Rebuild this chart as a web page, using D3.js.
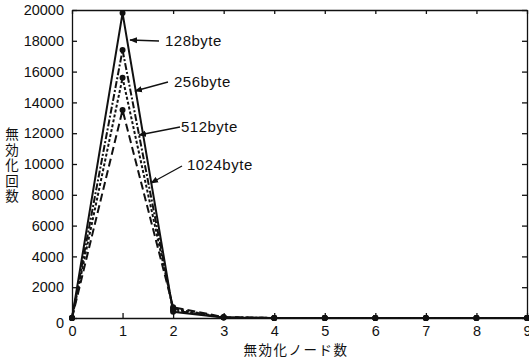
<!DOCTYPE html>
<html>
<head>
<meta charset="utf-8">
<script src="https://cdn.jsdelivr.net/npm/d3@7"></script>
<style>
  body { margin: 0; background: #fff; }
  text { font-family: "Liberation Sans", Arial, sans-serif; fill: #111; }
  .axis path, .axis line { stroke: #111; stroke-width: 1.3; }
  .axis text { font-size: 14.5px; }
  .cjk { font-family: "Noto Sans CJK JP", sans-serif; font-size: 13.5px; }
</style>
</head>
<body>
<svg id="chart" width="529" height="361"></svg>
<script>
// invalidated node count on x, invalidation count on y
var nodes = [0, 1, 2, 3, 4, 5, 6, 7, 8, 9];
var seriesNames = ["128byte", "256byte", "512byte", "1024byte"];
var v128  = [0, 19800, 400, 30, 0, 0, 0, 0, 0, 0];
var v256  = [0, 17400, 500, 40, 0, 0, 0, 0, 0, 0];
var v512  = [0, 15600, 600, 50, 0, 0, 0, 0, 0, 0];
var v1024 = [0, 13500, 700, 60, 0, 0, 0, 0, 0, 0];
var yTicks = [0, 2000, 4000, 6000, 8000, 10000, 12000, 14000, 16000, 18000, 20000];

var svg = d3.select("#chart");
var plotLeft = 72, plotRight = 527, plotTop = 10, plotBottom = 318;

var x = d3.scaleLinear().domain([0, 9]).range([plotLeft, plotRight]);
var y = d3.scaleLinear().domain([0, 20000]).range([plotBottom, plotTop]);

// frame, ticks pointing inward
svg.append("g")
    .attr("class", "axis")
    .attr("transform", "translate(0," + plotBottom + ")")
    .call(d3.axisBottom(x).tickValues(nodes).tickSizeInner(-5).tickSizeOuter(0).tickPadding(8).tickFormat(d3.format("d")));

var yAxis = svg.append("g")
    .attr("class", "axis")
    .attr("transform", "translate(" + plotLeft + ",0)")
    .call(d3.axisLeft(y).tickValues(yTicks).tickSizeInner(-5).tickSizeOuter(0).tickPadding(8).tickFormat(d3.format("d")));

// the zero label sits a little low in the original
yAxis.selectAll(".tick text")
    .filter(function(d) { return d === 0; })
    .attr("dy", "0.65em");

svg.append("g")
    .attr("class", "axis")
    .attr("transform", "translate(0," + plotTop + ")")
    .call(d3.axisTop(x).tickValues(nodes).tickSizeInner(-4).tickSizeOuter(0).tickFormat(""));

svg.append("g")
    .attr("class", "axis")
    .attr("transform", "translate(" + plotRight + ",0)")
    .call(d3.axisRight(y).tickValues(yTicks).tickSizeInner(-5).tickSizeOuter(0).tickFormat(""));

svg.selectAll(".axis .domain").attr("stroke-width", 1.6);

// lines
var series = [
  { name: seriesNames[0], values: v128,  dash: null },
  { name: seriesNames[1], values: v256,  dash: "7,2,2,2" },
  { name: seriesNames[2], values: v512,  dash: "3,2" },
  { name: seriesNames[3], values: v1024, dash: "8,4" }
];

var line = d3.line()
    .x(function(d, i) { return x(nodes[i]); })
    .y(function(d) { return y(d); });

series.forEach(function(s) {
  svg.append("path")
      .datum(s.values)
      .attr("fill", "none")
      .attr("stroke", "#111")
      .attr("stroke-width", 2)
      .attr("stroke-dasharray", s.dash)
      .attr("d", line);

  svg.selectAll(null)
      .data(s.values)
      .enter()
    .append("circle")
      .attr("cx", function(d, i) { return x(nodes[i]); })
      .attr("cy", function(d) { return y(d); })
      .attr("r", 3)
      .attr("fill", "#111");
});

// labels with arrows pointing at the lines
svg.append("defs").append("marker")
    .attr("id", "arrow")
    .attr("viewBox", "0 0 10 10")
    .attr("refX", 9).attr("refY", 5)
    .attr("markerWidth", 6).attr("markerHeight", 6)
    .attr("orient", "auto")
  .append("path")
    .attr("d", "M0,1L10,5L0,9z")
    .attr("fill", "#111");

var notes = [
  { text: seriesNames[0], tx: 165, ty: 46,  x1: 159, y1: 41,  x2: 130, y2: 40 },
  { text: seriesNames[1], tx: 174, ty: 87,  x1: 168, y1: 82,  x2: 135, y2: 91 },
  { text: seriesNames[2], tx: 181, ty: 132, x1: 180, y1: 127, x2: 139, y2: 135 },
  { text: seriesNames[3], tx: 187, ty: 170, x1: 182, y1: 166, x2: 151, y2: 183 }
];

notes.forEach(function(n) {
  svg.append("line")
      .attr("x1", n.x1).attr("y1", n.y1)
      .attr("x2", n.x2).attr("y2", n.y2)
      .attr("stroke", "#111")
      .attr("stroke-width", 1.3)
      .attr("marker-end", "url(#arrow)");
  svg.append("text")
      .attr("x", n.tx).attr("y", n.ty)
      .attr("font-size", "15px")
      .attr("letter-spacing", "0.5px")
      .text(n.text);
});

// axis titles
svg.append("text")
    .attr("class", "cjk")
    .attr("x", 296).attr("y", 355)
    .attr("text-anchor", "middle")
    .attr("letter-spacing", "1.5px")
    .text("無効化ノード数");

// vertical title, one character per line
svg.append("text")
    .attr("class", "cjk")
    .attr("x", 12)
    .attr("y", 166)
    .attr("text-anchor", "middle")
    .style("writing-mode", "vertical-rl")
    .style("text-orientation", "upright")
    .attr("letter-spacing", "2px")
    .text("無効化回数");
</script>
</body>
</html>
